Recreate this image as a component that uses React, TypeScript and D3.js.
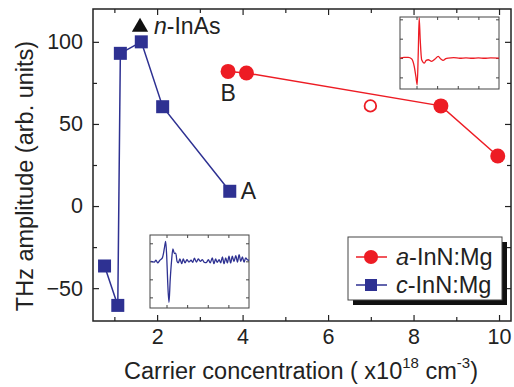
import { useEffect, useRef } from "react";
import * as d3 from "d3";

// c-InN:Mg (blue squares), in plotting order along the line
const cConc = [0.77, 1.08, 1.14, 1.63, 2.13, 3.7];
const cAmp = [-36.5, -60.5, 93, 100, 60.5, 9];

// a-InN:Mg (red filled circles, connected)
const aConc = [3.66, 4.09, 8.64, 9.97];
const aAmp = [82, 81, 61, 30.5];

// a-InN:Mg open circle (not connected)
const openConc = [6.99];
const openAmp = [61];

// n-InAs reference
const inasConc = [1.6];
const inasAmp = [109];

const xMajor = [2, 4, 6, 8, 10];
const xMinor = [1, 3, 5, 7, 9];
const yMajor = [-50, 0, 50, 100];
const yMinor = [-25, 25, 75];

// inset waveforms (time in ps, amplitude in arb. units)
const redT = [-0.8, -0.6, -0.4, -0.23, -0.11, -0.03, 0.035, 0.085, 0.13, 0.18, 0.25, 0.38, 0.47, 0.57, 0.73, 0.9, 1.05, 1.18, 1.29, 1.42, 1.54, 1.8, 2.1, 2.4, 2.7, 3.0, 3.3, 3.6, 4.0];
const redA = [0, 0.03, 0.03, -0.05, -0.43, -0.95, -1.38, 0.26, 2.07, 0.95, -0.09, -0.26, -0.12, -0.09, -0.17, -0.05, 0.09, -0.05, -0.12, -0.03, 0, 0.02, -0.01, 0.01, -0.01, 0.01, -0.01, 0.01, 0];

const blueT = [-0.75, -0.59, -0.51, -0.43, -0.32, -0.2, -0.1, -0.04, 0.01, 0.06, 0.12, 0.18, 0.25, 0.31, 0.38, 0.45, 0.51, 0.57, 0.65, 0.74, 0.81, 0.9, 0.99, 1.09, 1.19, 1.27, 1.35, 1.45, 1.54, 1.64, 1.74, 1.83, 1.93, 2.03, 2.12, 2.22, 2.3, 2.38, 2.46, 2.55, 2.63, 2.71, 2.79, 2.87, 2.95, 3.03, 3.11, 3.19, 3.27, 3.36, 3.44, 3.52, 3.6, 3.68, 3.76, 3.84, 3.92, 4.0];
const blueA = [0, -0.04, 0.06, -0.09, 0.06, 0.19, 0.74, 1.11, 0.28, -1.2, -2.28, -1.02, 0.09, 0.69, 0.43, 0.46, 0, -0.09, 0.13, -0.13, 0.13, -0.09, 0.09, -0.04, 0.06, -0.06, 0.17, -0.04, 0.13, 0, 0.09, -0.06, -0.07, 0.09, -0.09, 0.19, -0.13, 0.13, -0.06, 0.09, -0.09, 0.24, -0.13, 0.19, -0.09, 0.28, -0.09, 0.28, -0.02, 0.31, -0.04, 0.37, 0, 0.24, -0.04, 0.19, 0.09, 0.06];

const insetTicksX = [0, 1, 2, 3];

const RED = "#ed1c24";
const BLUE = "#2e3192";
const FONT = "'Liberation Sans', Arial, Helvetica, sans-serif";

const App = () => {
    const ref = useRef<SVGSVGElement>(null);

    useEffect(() => {
        const svg = d3.select(ref.current);
        svg.selectAll("*").remove();

        const x = d3.scaleLinear().domain([0.5, 10.28]).range([93, 511]);
        const y = d3.scaleLinear().domain([-70, 120]).range([321, 9]);

        // frame
        svg.append("rect")
            .attr("x", 93).attr("y", 9)
            .attr("width", 418).attr("height", 312)
            .attr("fill", "none").attr("stroke", "#222").attr("stroke-width", 1.5);

        const styleAxis = (g) => {
            g.select(".domain").remove();
            g.selectAll("line").attr("stroke", "#222").attr("stroke-width", 1.2);
            g.selectAll("text").attr("font-family", FONT).attr("font-size", 21.5).attr("fill", "#222");
        };

        // bottom / top axes
        svg.append("g").attr("transform", "translate(0,321)")
            .call(d3.axisBottom(x).tickValues(xMajor).tickSizeInner(-6).tickSizeOuter(0).tickPadding(8).tickFormat(d3.format("d")))
            .call(styleAxis);
        svg.append("g").attr("transform", "translate(0,321)")
            .call(d3.axisBottom(x).tickValues(xMinor).tickSizeInner(-4).tickSizeOuter(0).tickFormat(() => ""))
            .call(styleAxis);
        svg.append("g").attr("transform", "translate(0,9)")
            .call(d3.axisTop(x).tickValues(xMajor).tickSizeInner(-6).tickSizeOuter(0).tickFormat(() => ""))
            .call(styleAxis);
        svg.append("g").attr("transform", "translate(0,9)")
            .call(d3.axisTop(x).tickValues(xMinor).tickSizeInner(-4).tickSizeOuter(0).tickFormat(() => ""))
            .call(styleAxis);

        // left / right axes
        svg.append("g").attr("transform", "translate(93,0)")
            .call(d3.axisLeft(y).tickValues(yMajor).tickSizeInner(-6).tickSizeOuter(0).tickPadding(10).tickFormat(d3.format("d")))
            .call(styleAxis);
        svg.append("g").attr("transform", "translate(93,0)")
            .call(d3.axisLeft(y).tickValues(yMinor).tickSizeInner(-4).tickSizeOuter(0).tickFormat(() => ""))
            .call(styleAxis);
        svg.append("g").attr("transform", "translate(511,0)")
            .call(d3.axisRight(y).tickValues(yMajor).tickSizeInner(-6).tickSizeOuter(0).tickFormat(() => ""))
            .call(styleAxis);
        svg.append("g").attr("transform", "translate(511,0)")
            .call(d3.axisRight(y).tickValues(yMinor).tickSizeInner(-4).tickSizeOuter(0).tickFormat(() => ""))
            .call(styleAxis);

        // axis labels
        const xl = svg.append("text")
            .attr("x", 301).attr("y", 379)
            .attr("text-anchor", "middle")
            .attr("font-family", FONT).attr("font-size", 23.5).attr("fill", "#222");
        xl.append("tspan").text("Carrier concentration ( x10");
        xl.append("tspan").attr("font-size", 15).attr("dy", -11).text("18");
        xl.append("tspan").attr("dy", 11).text(" cm");
        xl.append("tspan").attr("font-size", 15).attr("dy", -11).text("-3");
        xl.append("tspan").attr("dy", 11).text(")");

        svg.append("text")
            .attr("transform", "translate(33,176) rotate(-90)")
            .attr("text-anchor", "middle")
            .attr("font-family", FONT).attr("font-size", 23.5).attr("fill", "#222")
            .text("THz amplitude (arb. units)");

        // insets
        const drawInset = (x0, y0, w, h, tData, aData, yDom, yTicks, color) => {
            const ix = d3.scaleLinear().domain([-0.8, 4]).range([x0, x0 + w]);
            const iy = d3.scaleLinear().domain(yDom).range([y0 + h, y0]);
            svg.append("rect")
                .attr("x", x0).attr("y", y0).attr("width", w).attr("height", h)
                .attr("fill", "#fff").attr("stroke", "#444").attr("stroke-width", 1);
            const tick = (g) => {
                g.select(".domain").remove();
                g.selectAll("line").attr("stroke", "#444").attr("stroke-width", 1);
            };
            svg.append("g").attr("transform", `translate(0,${y0 + h})`)
                .call(d3.axisBottom(ix).tickValues(insetTicksX).tickSizeInner(-3).tickSizeOuter(0).tickFormat(() => "")).call(tick);
            svg.append("g").attr("transform", `translate(0,${y0})`)
                .call(d3.axisTop(ix).tickValues(insetTicksX).tickSizeInner(-3).tickSizeOuter(0).tickFormat(() => "")).call(tick);
            svg.append("g").attr("transform", `translate(${x0},0)`)
                .call(d3.axisLeft(iy).tickValues(yTicks).tickSizeInner(-3).tickSizeOuter(0).tickFormat(() => "")).call(tick);
            svg.append("g").attr("transform", `translate(${x0 + w},0)`)
                .call(d3.axisRight(iy).tickValues(yTicks).tickSizeInner(-3).tickSizeOuter(0).tickFormat(() => "")).call(tick);
            const line = d3.line<number>()
                .x((d, i) => ix(tData[i]))
                .y((d) => iy(d))
                .curve(d3.curveMonotoneX);
            svg.append("path")
                .attr("d", line(aData))
                .attr("fill", "none").attr("stroke", color).attr("stroke-width", 1.3);
        };

        drawInset(400, 17, 99, 72, redT, redA, [-1.6, 2.12], [-1, 0, 1, 2], RED);
        drawInset(150, 235, 99, 73, blueT, blueA, [-2.59, 1.46], [-2, -1, 0, 1], BLUE);

        // a-InN:Mg line and markers
        const aPts = aConc.map((c, i) => [x(c), y(aAmp[i])] as [number, number]);
        svg.append("path")
            .attr("d", d3.line()(aPts))
            .attr("fill", "none").attr("stroke", RED).attr("stroke-width", 1.5);
        svg.selectAll(".a-pt").data(aPts).enter().append("circle")
            .attr("cx", (d) => d[0]).attr("cy", (d) => d[1]).attr("r", 7.5)
            .attr("fill", RED);
        svg.selectAll(".open-pt").data(openConc).enter().append("circle")
            .attr("cx", (d) => x(d)).attr("cy", (d, i) => y(openAmp[i])).attr("r", 5.8)
            .attr("fill", "#fff").attr("stroke", RED).attr("stroke-width", 1.8);

        // c-InN:Mg line and markers
        const cPts = cConc.map((c, i) => [x(c), y(cAmp[i])] as [number, number]);
        svg.append("path")
            .attr("d", d3.line()(cPts))
            .attr("fill", "none").attr("stroke", BLUE).attr("stroke-width", 1.5);
        svg.selectAll(".c-pt").data(cPts).enter().append("rect")
            .attr("x", (d) => d[0] - 6.5).attr("y", (d) => d[1] - 6.5)
            .attr("width", 13).attr("height", 13)
            .attr("fill", BLUE);

        // n-InAs triangle
        svg.selectAll(".inas").data(inasConc).enter().append("path")
            .attr("transform", (d, i) => `translate(${x(d)},${y(inasAmp[i])})`)
            .attr("d", d3.symbol(d3.symbolTriangle, 115)())
            .attr("fill", "#111");
        const inasLabel = svg.append("text")
            .attr("x", x(inasConc[0]) + 14).attr("y", y(inasAmp[0]) + 6.5)
            .attr("font-family", FONT).attr("font-size", 23).attr("fill", "#222");
        inasLabel.append("tspan").attr("font-style", "italic").text("n");
        inasLabel.append("tspan").text("-InAs");

        // point labels
        svg.append("text")
            .attr("x", x(cConc[5]) + 11).attr("y", y(cAmp[5]) + 8)
            .attr("font-family", FONT).attr("font-size", 23).attr("fill", "#222")
            .text("A");
        svg.append("text")
            .attr("x", x(aConc[0])).attr("y", y(aAmp[0]) + 30)
            .attr("text-anchor", "middle")
            .attr("font-family", FONT).attr("font-size", 23).attr("fill", "#222")
            .text("B");

        // legend
        const lg = svg.append("g");
        lg.append("rect")
            .attr("x", 353).attr("y", 242).attr("width", 154).attr("height", 63)
            .attr("fill", "#111");
        lg.append("rect")
            .attr("x", 348).attr("y", 237).attr("width", 154).attr("height", 63)
            .attr("fill", "#fff").attr("stroke", "#444").attr("stroke-width", 1);
        const entries = [
            { name: "a", color: RED, shape: "circle", cy: 257 },
            { name: "c", color: BLUE, shape: "square", cy: 285 },
        ];
        entries.forEach((e) => {
            lg.append("line")
                .attr("x1", 356).attr("x2", 387).attr("y1", e.cy).attr("y2", e.cy)
                .attr("stroke", e.color).attr("stroke-width", 1.5);
            if (e.shape === "circle") {
                lg.append("circle").attr("cx", 371).attr("cy", e.cy).attr("r", 7).attr("fill", e.color);
            } else {
                lg.append("rect").attr("x", 365).attr("y", e.cy - 6).attr("width", 12).attr("height", 12).attr("fill", e.color);
            }
            const t = lg.append("text")
                .attr("x", 396).attr("y", e.cy + 8)
                .attr("font-family", FONT).attr("font-size", 23.5).attr("fill", "#222");
            t.append("tspan").attr("font-style", "italic").text(e.name);
            t.append("tspan").text("-InN:Mg");
        });
    }, []);

    return (
        <svg
            ref={ref}
            width={514}
            height={387}
            style={{ position: "absolute", left: 0, top: 0, background: "#fff" }}
        />
    );
};

export default App;
